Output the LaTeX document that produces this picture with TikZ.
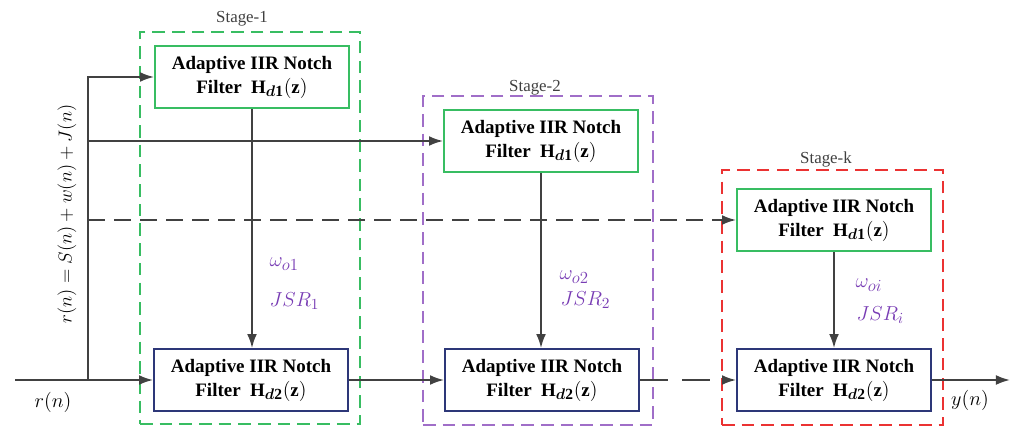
\documentclass[tikz,border=0pt]{standalone}
\usepackage{fontspec}
\setmainfont{Liberation Serif}
\usepackage{bm}
\usetikzlibrary{arrows.meta}
\DeclareMathSizes{13.5}{13.5}{11}{9}
\DeclareMathSizes{15}{15}{11.5}{9}

\definecolor{greenline}{RGB}{56,189,98}
\definecolor{purpleline}{RGB}{160,110,200}
\definecolor{redline}{RGB}{235,50,50}
\definecolor{navyline}{RGB}{45,55,120}
\definecolor{labelpurple}{RGB}{120,60,180}
\definecolor{wire}{RGB}{65,65,65}

\newcommand{\filtertext}[1]{\textbf{Adaptive IIR Notch}\\\textbf{Filter}~ $\mathbf{H}_{\bm{d}\mathbf{#1}}(\mathbf{z})$}

\begin{document}
\begin{tikzpicture}[
        x=0.025cm, y=-0.025cm,
        font=\fontsize{12}{15}\selectfont,
        filterbox/.style={
            draw,
            line width=1.3pt,
            minimum width=4.85cm,
            minimum height=1.55cm,
            align=center,
            fill=white,
            font=\fontsize{13.5}{17}\selectfont
        },
        upper/.style={filterbox, draw=greenline},
        lower/.style={filterbox, draw=navyline},
        stagebox/.style={
            draw,
            line width=1pt,
            dash pattern=on 9pt off 5pt
        },
        stagelabel/.style={text=black!75},
        param/.style={text=labelpurple, anchor=west, font=\fontsize{13.5}{16}\selectfont},
        every path/.style={line width=1.3pt},
        wirearrow/.style={draw=wire, -{Latex[length=10pt,width=7pt]}}
    ]

    \useasboundingbox (0,0) rectangle (1017,432);

    % stage frames
    \node[stagebox, draw=greenline, minimum width=5.5cm, minimum height=9.8cm] (stage1) at (250,228) {};
    \node[stagebox, draw=purpleline, minimum width=5.75cm, minimum height=8.225cm] (stage2) at (538,260.5) {};
    \node[stagebox, draw=redline, minimum width=5.525cm, minimum height=6.375cm] (stagek) at (832.5,297.5) {};

    \node[stagelabel] (lab1) at (242,19) {Stage-1};
    \node[stagelabel] (lab2) at (535,88) {Stage-2};
    \node[stagelabel] (labk) at (826,159) {Stage-k};

    % filters
    \node[upper] (top1) at (252,77) {\filtertext{1}};
    \node[lower] (bot1) at (251,380) {\filtertext{2}};
    \node[upper] (top2) at (541,141) {\filtertext{1}};
    \node[lower] (bot2) at (542,380) {\filtertext{2}};
    \node[upper] (topk) at (834,220) {\filtertext{1}};
    \node[lower] (botk) at (834,380) {\filtertext{2}};

    % input and taps
    \coordinate (in) at (15,380);
    \coordinate (split) at (88,380);
    \coordinate (tap2) at (88,141);
    \coordinate (tapk) at (88,220);
    \coordinate (out) at (1010,380);

    \node[font=\fontsize{15}{17}\selectfont] (rin) at (53,402) {$r(n)$};
    \node[rotate=90, scale=0.93, font=\fontsize{13.5}{15}\selectfont] (rsum) at (67,214) {$r(n)=S(n)+w(n)+J(n)$};
    \node[font=\fontsize{15}{17}\selectfont] (yout) at (970,400) {$y(n)$};

    \draw[wirearrow] (in) -- (bot1.west);
    \draw[wirearrow] (split) |- (top1.west);
    \draw[wirearrow] (tap2) -- (top2.west);
    \draw[wirearrow, dash pattern=on 12pt off 6.5pt] (tapk) -- (topk.west);

    % notch estimates
    \draw[wirearrow] (top1.south) -- (top1.south |- bot1.north);
    \draw[wirearrow] (top2.south) -- (top2.south |- bot2.north);
    \draw[wirearrow] (topk.south) -- (topk.south |- botk.north);

    \node[param, font=\fontsize{15}{17}\selectfont] (w1) at (264,264) {$\omega_{o1}$};
    \node[param] (j1) at (264,301) {$JSR_1$};
    \node[param, font=\fontsize{15}{17}\selectfont] (w2) at (554,277) {$\omega_{o2}$};
    \node[param] (j2) at (555,300) {$JSR_2$};
    \node[param, font=\fontsize{15}{17}\selectfont] (wk) at (850,285) {$\omega_{oi}$};
    \node[param] (jk) at (851,315) {$JSR_i$};

    % cascade
    \draw[wirearrow] (bot1.east) -- (bot2.west);
    \draw[wirearrow, dash pattern=on 20pt off 10pt] (bot2.east) -- (botk.west);
    \draw[wirearrow] (botk.east) -- (out);

\end{tikzpicture}
\end{document}
